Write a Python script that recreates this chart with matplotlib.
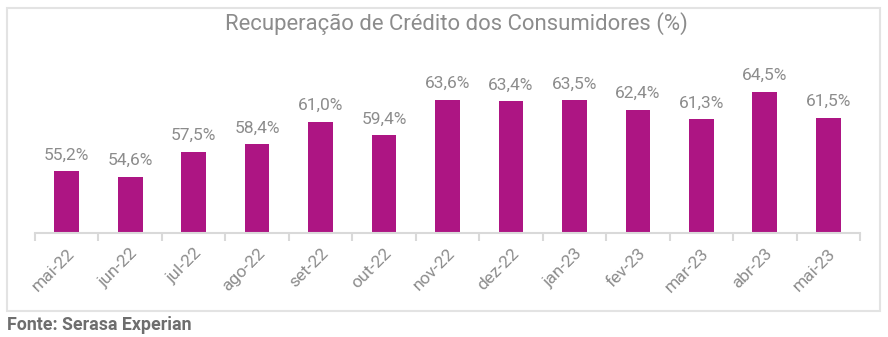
import matplotlib
matplotlib.use("Agg")
import matplotlib.pyplot as plt
from matplotlib.patches import Rectangle
import numpy as np

categories = ["mai-22", "jun-22", "jul-22", "ago-22", "set-22", "out-22", "nov-22",
              "dez-22", "jan-23", "fev-23", "mar-23", "abr-23", "mai-23"]
values = [55.2, 54.6, 57.5, 58.4, 61.0, 59.4, 63.6, 63.4, 63.5, 62.4, 61.3, 64.5, 61.5]
title = "Recuperação de Crédito dos Consumidores (%)"
source = "Fonte: Serasa Experian"

plt.rcParams['font.family'] = ['Roboto', 'DejaVu Sans']

W, H = 888, 337
fig = plt.figure(figsize=(W / 100, H / 100), dpi=100)
ax = fig.add_axes([35 / W, 1 - 233 / H, (860 - 35) / W, (233 - 79) / H])

bar_color = "#AD1583"
text_gray = "#8C8C8C"
line_gray = "#D9D9D9"

x = np.arange(len(categories))
bars = ax.bar(x, values, width=0.39, color=bar_color, zorder=2)
ax.set_ylim(48, 66)
ax.set_xlim(-0.5, len(categories) - 0.5)

for xi, v in zip(x, values):
    ax.text(xi, v + 1.0, f"{v:.1f}%".replace(".", ","), ha="center", va="bottom",
            fontsize=12.5, color=text_gray, clip_on=False)

for s in ["top", "right", "left"]:
    ax.spines[s].set_visible(False)
ax.spines["bottom"].set_color(line_gray)
ax.spines["bottom"].set_linewidth(1.5)
ax.set_yticks([])

ax.set_xticks(x)
ax.set_xticklabels(categories, rotation=45, ha="right", rotation_mode="anchor",
                   fontsize=12.5, color=text_gray)
ax.tick_params(axis="x", which="major", length=0, pad=9)
ax.set_xticks(np.arange(-0.5, len(categories), 1.0), minor=True)
ax.tick_params(axis="x", which="minor", length=6, width=1.5, color=line_gray)

fig.text(456 / W, 1 - 24 / H, title, ha="center", va="center", fontsize=15.9, color=text_gray)
fig.text(7 / W, 1 - 325 / H, source, ha="left", va="center", fontsize=12.8,
         fontweight="bold", color="#6E6E6E")

fig.patches.append(Rectangle((7 / W, 1 - 311 / H), (880 - 7) / W, (311 - 8) / H,
                             transform=fig.transFigure, fill=False,
                             edgecolor="#E3E3E3", linewidth=1.5))

fig.savefig("out.png", dpi=100)
